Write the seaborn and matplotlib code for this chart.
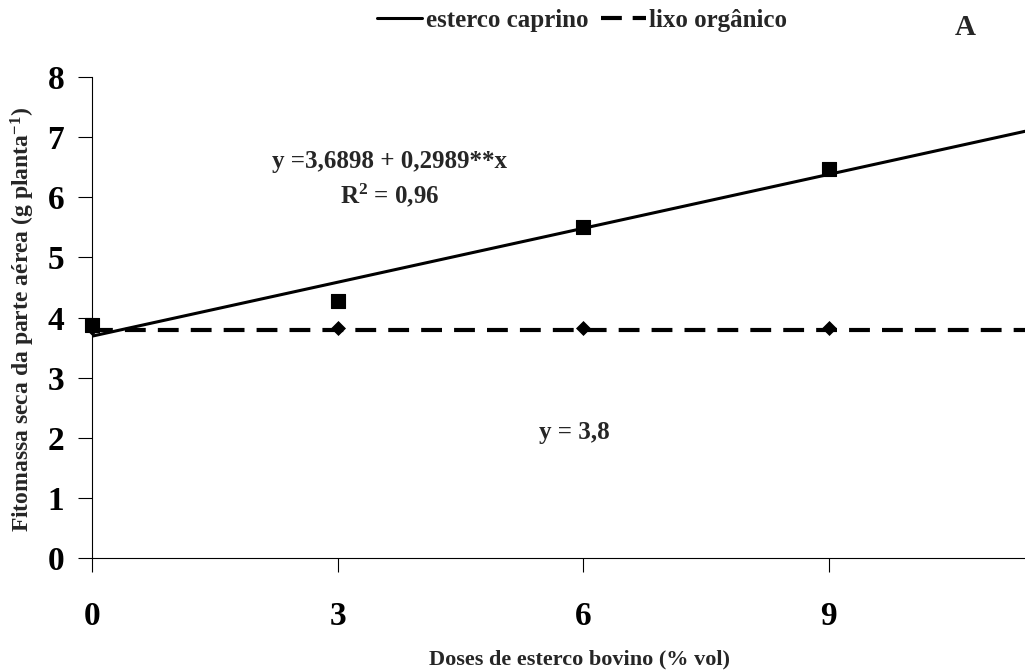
import numpy as np
import pandas as pd
import matplotlib
matplotlib.use("Agg")
import matplotlib.pyplot as plt
import seaborn as sns
from matplotlib.lines import Line2D

# Data
doses = [0, 3, 6, 9]
caprino = [3.88, 4.28, 5.51, 6.47]
lixo = [3.82, 3.82, 3.82, 3.82]

# fitted equations shown on the chart
a_cap, b_cap = 3.6898, 0.2989
media_lixo = 3.8
x_max = 11.4

xticks = [0, 3, 6, 9]
yticks = [0, 1, 2, 3, 4, 5, 6, 7, 8]

sns.set_style("white")
plt.rcParams['font.family'] = ['Liberation Serif', 'DejaVu Serif']
plt.rcParams['font.weight'] = 'bold'
plt.rcParams['mathtext.fontset'] = 'custom'
plt.rcParams['mathtext.rm'] = 'Liberation Serif:bold'
plt.rcParams['mathtext.bf'] = 'Liberation Serif:bold'
plt.rcParams['mathtext.it'] = 'Liberation Serif:bold'
plt.rcParams['mathtext.default'] = 'rm'

fig = plt.figure(figsize=(10.25, 6.71), dpi=100)
ax = fig.add_axes([0.0898, 0.1684, 0.9102, 0.7168])

x_fit = np.array([0, x_max])
fit = pd.DataFrame({'x': x_fit, 'cap': a_cap + b_cap * x_fit,
                    'lixo': np.full(2, media_lixo)})

sns.lineplot(data=fit, x='x', y='cap', color='black', linewidth=2.2, ax=ax)
sns.lineplot(data=fit, x='x', y='lixo', color='black', linewidth=3.0, ax=ax)
ax.lines[-1].set_dashes((5, 2.9))

pts = pd.DataFrame({'dose': doses, 'caprino': caprino, 'lixo': lixo})
sns.scatterplot(data=pts, x='dose', y='caprino', marker='s', s=100,
                color='black', edgecolor='black', ax=ax, clip_on=False, zorder=5)
sns.scatterplot(data=pts, x='dose', y='lixo', marker='D', s=50,
                color='black', edgecolor='black', ax=ax, clip_on=False, zorder=5)

ax.set_xlim(0, x_max)
ax.set_ylim(0, 8)
ax.set_xticks(xticks)
ax.set_yticks(yticks)
ax.tick_params(axis='both', labelsize=24, length=10, width=0.8,
               direction='out', bottom=True, left=True, colors='black')
ax.tick_params(axis='x', pad=21)
ax.tick_params(axis='y', pad=10)
for lbl in ax.get_xticklabels() + ax.get_yticklabels():
    lbl.set_fontweight('bold')

for s in ['top', 'right']:
    ax.spines[s].set_visible(False)
for s in ['left', 'bottom']:
    ax.spines[s].set_color('black')
    ax.spines[s].set_linewidth(0.8)

ax.set_xlabel('Doses de esterco bovino (% vol)', fontsize=16, fontweight='bold')
ax.xaxis.set_label_coords(0.523, -0.19)
ax.set_ylabel('Fitomassa seca da parte aérea (g planta$^{-1}$)',
              fontsize=17, fontweight='bold')
ax.yaxis.set_label_coords(-0.059, 0.495)

ax.text(2.2, 6.59, 'y =3,6898 + 0,2989**x', fontsize=18, fontweight='bold',
        va='center')
ax.text(3.64, 6.04, 'R$^{2}$ = 0,96', fontsize=18, fontweight='bold',
        ha='center', va='center')
ax.text(5.89, 2.08, 'y = 3,8', fontsize=18, fontweight='bold', ha='center',
        va='center')

handles = [Line2D([], [], color='black', linewidth=2.2),
           Line2D([], [], color='black', linewidth=3.0, dashes=(5, 2.6))]
fig.legend(handles, ['esterco caprino', 'lixo orgânico'], loc='center',
           bbox_to_anchor=(0.568, 0.970), ncol=2, frameon=False,
           prop={'size': 18, 'weight': 'bold'}, handlelength=1.8,
           handletextpad=0.15, columnspacing=0.5)

fig.text(0.9415, 0.959, 'A', fontsize=21, fontweight='bold', ha='center',
         va='center')

fig.savefig('out.png', dpi=100)
